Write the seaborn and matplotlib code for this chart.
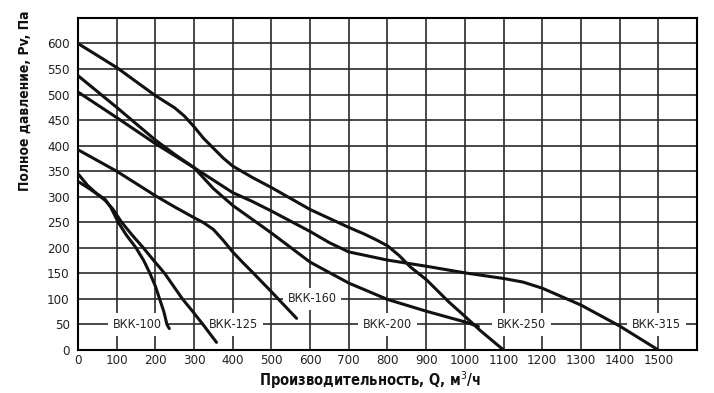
import pandas as pd
import matplotlib.pyplot as plt
import seaborn as sns

# curve data (Q m3/h, Pv Pa)
q_100 = [0, 25, 50, 70, 85, 104, 125, 150, 170, 186, 200, 211, 222, 230, 236]
p_100 = [345, 322, 305, 295, 279, 250, 225, 200, 175, 150, 125, 100, 75, 50, 42]

q_125 = [0, 25, 50, 70, 90, 113, 140, 169, 196, 224, 247, 270, 297, 323, 358]
p_125 = [330, 318, 305, 293, 276, 250, 225, 200, 175, 150, 125, 100, 75, 50, 15]

q_160 = [0, 100, 200, 250, 300, 325, 350, 375, 400, 425, 450, 500, 565]
p_160 = [392, 350, 302, 280, 259, 249, 236, 215, 192, 172, 153, 114, 62]

q_200 = [0, 100, 200, 250, 300, 350, 400, 450, 500, 600, 700, 800, 900, 1000, 1035]
p_200 = [537, 475, 411, 383, 357, 316, 283, 256, 229, 172, 131, 99, 76, 55, 46]

q_250 = [0, 100, 200, 250, 275, 300, 325, 350, 375, 400, 450, 500, 600, 700, 740, 770,
         800, 830, 860, 900, 960, 1000, 1040, 1100]
p_250 = [600, 553, 498, 474, 458, 437, 414, 395, 376, 360, 338, 318, 275, 240, 227, 216,
         204, 185, 162, 138, 93, 66, 38, 0]

q_315 = [0, 100, 200, 300, 400, 450, 500, 600, 650, 700, 800, 900, 1000, 1100, 1150,
         1200, 1300, 1400, 1500]
p_315 = [505, 455, 404, 357, 308, 291, 272, 232, 210, 192, 176, 164, 151, 140, 133,
         121, 88, 47, 0]

names = ['ВКК-100', 'ВКК-125', 'ВКК-160', 'ВКК-200', 'ВКК-250', 'ВКК-315']
label_q = [154, 403, 605, 801, 1147, 1496]
label_p = [50, 50, 100, 50, 50, 50]

curves = [(q_100, p_100), (q_125, p_125), (q_160, p_160),
          (q_200, p_200), (q_250, p_250), (q_315, p_315)]
rows = []
for name, (qs, ps) in zip(names, curves):
    for q, p in zip(qs, ps):
        rows.append({'model': name, 'Q': q, 'P': p})
df = pd.DataFrame(rows)

sns.set_style('white')
plt.rcParams['font.family'] = ['DejaVu Sans']
plt.rcParams['font.stretch'] = 'condensed'

fig = plt.figure(figsize=(7.14, 3.93), dpi=100)
ax = fig.add_axes([0.1092, 0.1094, 0.867, 0.845])
ax.set_axisbelow(True)

sns.lineplot(data=df, x='Q', y='P', units='model', estimator=None, sort=False,
             color='#111111', lw=2.2, ax=ax, zorder=3)

ax.set_xlim(0, 1600)
ax.set_ylim(0, 650)
ax.set_xticks(range(0, 1700, 100))
ax.set_xticklabels([str(v) for v in range(0, 1600, 100)] + [''])
ax.set_yticks(range(0, 700, 50))
ax.set_yticklabels([str(v) for v in range(0, 650, 50)] + [''])
ax.tick_params(length=0, labelsize=9.5, colors='#222222')
ax.tick_params(axis='y', pad=6)
ax.tick_params(axis='x', pad=3)
ax.grid(True, color='#2a2a2a', lw=1.2)
for s in ax.spines.values():
    s.set_color('black')
    s.set_linewidth(1.5)

for name, x, y in zip(names, label_q, label_p):
    ax.text(x, y, name, ha='center', va='center', fontsize=9, color='#222222', zorder=2,
            bbox=dict(facecolor='white', edgecolor='none', pad=3.5))

ax.set_xlabel('')
ax.set_ylabel('')
fig.text(0.518, 0.033, 'Производительность, Q, м$^3$/ч', ha='center', va='center',
         fontsize=10.5, fontweight='bold', color='#111111')
fig.text(0.035, 0.743, 'Полное давление, Pv, Па', ha='center', va='center', rotation=90,
         fontsize=10, fontweight='bold', color='#111111')

plt.savefig('out.png', dpi=100)
